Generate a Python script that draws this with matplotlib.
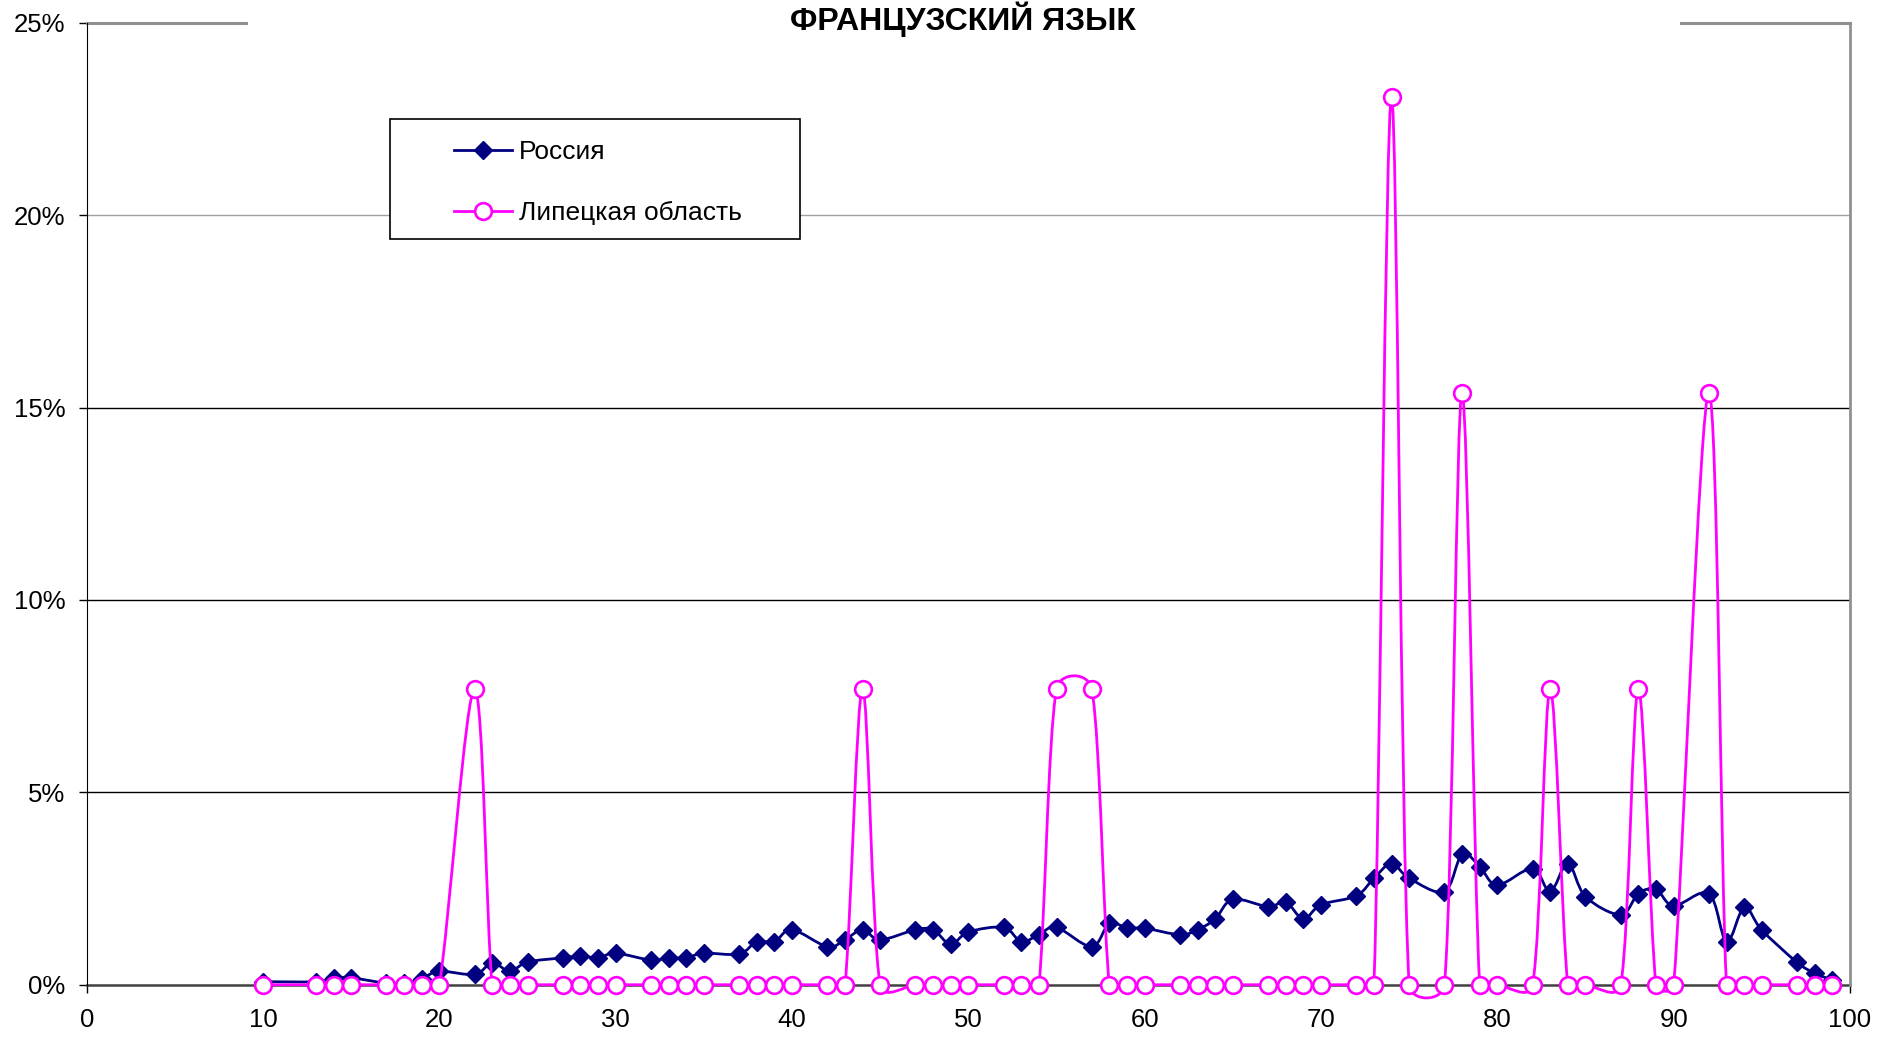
import numpy as np
import matplotlib
matplotlib.use("Agg")
import matplotlib.pyplot as plt
from matplotlib.path import Path
from matplotlib.patches import PathPatch, Rectangle
from matplotlib.lines import Line2D
from matplotlib.ticker import FuncFormatter

plt.rcParams['font.family'] = ['Liberation Sans', 'DejaVu Sans']

# тестовый балл
scores = [10, 13, 14, 15, 17, 18, 19, 20, 22, 23, 24, 25, 27, 28, 29, 30,
          32, 33, 34, 35, 37, 38, 39, 40, 42, 43, 44, 45, 47, 48, 49, 50,
          52, 53, 54, 55, 57, 58, 59, 60, 62, 63, 64, 65, 67, 68, 69, 70,
          72, 73, 74, 75, 77, 78, 79, 80, 82, 83, 84, 85, 87, 88, 89, 90,
          92, 93, 94, 95, 97, 98, 99]

# доля участников, %
russia = [0.08, 0.08, 0.18, 0.18, 0.04, 0.04, 0.16, 0.35, 0.27, 0.57, 0.35, 0.59,
          0.70, 0.75, 0.70, 0.82, 0.64, 0.70, 0.70, 0.82, 0.80, 1.12, 1.12, 1.43,
          0.99, 1.17, 1.43, 1.17, 1.43, 1.43, 1.05, 1.37, 1.49, 1.12, 1.30, 1.49,
          0.99, 1.60, 1.47, 1.47, 1.30, 1.43, 1.71, 2.22, 2.03, 2.15, 1.71, 2.08,
          2.31, 2.77, 3.15, 2.77, 2.42, 3.39, 3.07, 2.59, 3.02, 2.42, 3.15, 2.29,
          1.82, 2.37, 2.48, 2.05, 2.37, 1.12, 2.01, 1.42, 0.58, 0.30, 0.12]

lipetsk = [0, 0, 0, 0, 0, 0, 0, 0, 7.69, 0, 0, 0,
           0, 0, 0, 0, 0, 0, 0, 0, 0, 0, 0, 0,
           0, 0, 7.69, 0, 0, 0, 0, 0, 0, 0, 0, 7.69,
           7.69, 0, 0, 0, 0, 0, 0, 0, 0, 0, 0, 0,
           0, 0, 23.08, 0, 0, 15.38, 0, 0, 0, 7.69, 0, 0,
           0, 7.69, 0, 0, 15.38, 0, 0, 0, 0, 0, 0]

x_ticks = list(range(0, 101, 10))
y_ticks = [0, 5, 10, 15, 20, 25]

NAVY = '#000080'
PINK = '#FF00FF'


def arm(prev_pt, next_pt, seg_len):
    # касательная (P2-P0)/6, но не длиннее половины отрезка
    v = (next_pt - prev_pt) / 6.0
    L = np.hypot(*v)
    if L > 0.5 * seg_len and L > 0:
        v = v * (0.5 * seg_len / L)
    return v


def smooth_path(ax, xs, ys):
    # сглаженная линия как в Excel (Безье по экранным координатам)
    pts = ax.transData.transform(np.column_stack([xs, ys]))
    n = len(pts)
    verts = [pts[0]]
    codes = [Path.MOVETO]
    for i in range(n - 1):
        p0 = pts[i - 1] if i > 0 else pts[i]
        p1 = pts[i]
        p2 = pts[i + 1]
        p3 = pts[i + 2] if i + 2 < n else pts[i + 1]
        d12 = np.hypot(*(p2 - p1))
        c1 = p1 + arm(p0, p2, d12)
        c2 = p2 - arm(p1, p3, d12)
        verts += [c1, c2, p2]
        codes += [Path.CURVE4] * 3
    verts = ax.transData.inverted().transform(np.array(verts))
    return Path(verts, codes)


fig = plt.figure(figsize=(18.77, 10.38), dpi=100)
ax = fig.add_axes([0.0462, 0.0513, 0.9394, 0.9268])
ax.set_xlim(0, 100)
ax.set_ylim(0, 25)

# линии сетки
for v in [5, 10, 15]:
    ax.axhline(v, color='black', lw=1, zorder=1)
ax.axhline(20, color='#a0a0a0', lw=1, zorder=1)

ax.add_patch(PathPatch(smooth_path(ax, scores, russia), fill=False,
                       edgecolor=NAVY, lw=2.0, zorder=3, clip_on=False))
ax.plot(scores, russia, 'D', color=NAVY, ms=9.5, zorder=4, clip_on=False)
ax.add_patch(PathPatch(smooth_path(ax, scores, lipetsk), fill=False,
                       edgecolor=PINK, lw=2.0, zorder=5, clip_on=False))
ax.plot(scores, lipetsk, 'o', mfc='white', mec=PINK, mew=1.9, ms=12,
        zorder=6, clip_on=False)

ax.set_xticks(x_ticks)
ax.set_yticks(y_ticks)
ax.yaxis.set_major_formatter(FuncFormatter(lambda v, p: '%d%%' % v))
ax.tick_params(axis='both', labelsize=18.5, direction='out', length=5.5, width=1)
ax.tick_params(axis='x', pad=11)
ax.tick_params(axis='y', pad=10)

ax.spines['left'].set_color('black')
ax.spines['bottom'].set_color('#404040')
ax.spines['bottom'].set_linewidth(1.8)
ax.spines['bottom'].set_zorder(2)
ax.spines['right'].set_color('#909090')
ax.spines['right'].set_linewidth(2)
ax.spines['top'].set_visible(False)
# верхняя граница, прерванная заголовком
ax.plot([0, 0.0903], [1, 1], transform=ax.transAxes, color='#909090', lw=2.2, clip_on=False)
ax.plot([0.904, 1], [1, 1], transform=ax.transAxes, color='#909090', lw=2.2, clip_on=False)

fig.text(0.513, 0.9814, 'ФРАНЦУЗСКИЙ ЯЗЫК', ha='center', va='center',
         fontsize=23, fontweight='bold')

# легенда
ax.add_patch(Rectangle((0.172, 0.775), 0.2325, 0.1247, transform=ax.transAxes,
                       facecolor='white', edgecolor='black', lw=1.2, zorder=7))
handles = [Line2D([], [], color=NAVY, lw=2.0, marker='D', ms=9.5),
           Line2D([], [], color=PINK, lw=2.0, marker='o', mfc='white', mec=PINK, mew=1.9, ms=12)]
leg = ax.legend(handles, ['Россия', 'Липецкая область'], loc='center left',
                bbox_to_anchor=(0.2009, 0.834), frameon=False, fontsize=19,
                borderpad=0, handlelength=2.2, handletextpad=0.25, labelspacing=1.4)
leg.set_zorder(8)

fig.savefig('out.png', dpi=100)
